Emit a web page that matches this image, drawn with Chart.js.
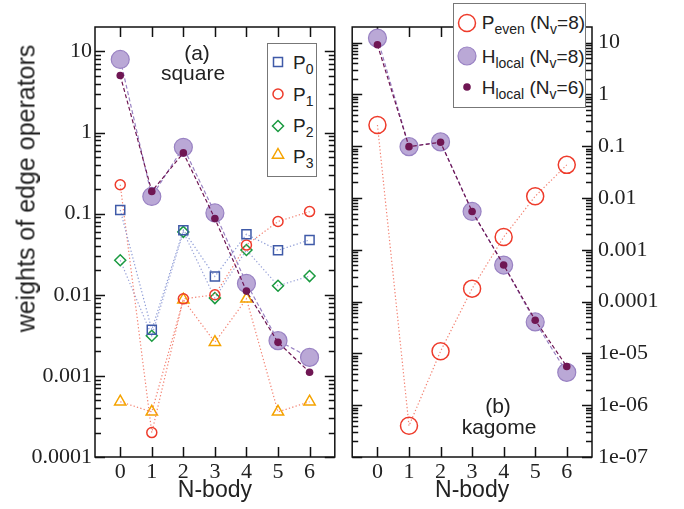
<!DOCTYPE html>
<html><head><meta charset="utf-8">
<script src="https://cdn.jsdelivr.net/npm/chart.js@4.4.1/dist/chart.umd.min.js"></script>
<style>
html,body{margin:0;padding:0;background:#fff;}
#wrap{position:relative;width:684px;height:509px;overflow:hidden;font-family:'Liberation Sans',Arial,sans-serif;color:#222;}
canvas{position:absolute;top:0;}
#c1{left:0;} #c2{left:342px;}
.txt{position:absolute;white-space:nowrap;}
.lg{font-size:19px;line-height:19px;}
.lg sub{font-size:14px;vertical-align:-5px;line-height:0;}
.box{position:absolute;background:#fff;border:1px solid #777;box-sizing:border-box;}
.mk{position:absolute;width:24px;height:24px;overflow:visible;}
</style></head>
<body>
<div id="wrap">
<canvas id="c1" width="345" height="509"></canvas>
<canvas id="c2" width="342" height="509"></canvas>

<div class="txt" style="left:-174px;top:175.5px;width:400px;height:25px;font-size:25px;line-height:25px;text-align:center;transform:rotate(-90deg);">weights of edge operators</div>

<div class="txt" style="left:137px;top:42px;width:120px;text-align:center;font-size:21px;line-height:21px;">(a)</div>
<div class="txt" style="left:133px;top:62px;width:120px;text-align:center;font-size:21px;line-height:21px;">square</div>
<div class="txt" style="left:438px;top:395px;width:120px;text-align:center;font-size:21px;line-height:21px;">(b)</div>
<div class="txt" style="left:439px;top:416px;width:120px;text-align:center;font-size:21px;line-height:21px;">kagome</div>

<!-- legend (a) -->
<div class="box" style="left:267px;top:43px;width:50px;height:134px;"></div>
<svg class="mk" style="left:266px;top:50px"><rect x="7.5" y="7.5" width="9" height="9" fill="none" stroke="#3f5aa8" stroke-width="1.5"/></svg>
<svg class="mk" style="left:266px;top:82px"><circle cx="12" cy="12" r="5" fill="none" stroke="#ee3b2b" stroke-width="1.5"/></svg>
<svg class="mk" style="left:266px;top:114px"><polygon points="12,6.5 17.5,12 12,17.5 6.5,12" fill="none" stroke="#1a9a40" stroke-width="1.5"/></svg>
<svg class="mk" style="left:266px;top:143px"><polygon points="12,5.5 17.6,15.2 6.4,15.2" fill="none" stroke="#f5a300" stroke-width="1.5"/></svg>
<div class="txt lg" style="left:293px;top:52.7px">P<sub>0</sub></div>
<div class="txt lg" style="left:293px;top:84.5px">P<sub>1</sub></div>
<div class="txt lg" style="left:293px;top:116.3px">P<sub>2</sub></div>
<div class="txt lg" style="left:293px;top:146.5px">P<sub>3</sub></div>

<!-- legend (b) -->
<div class="box" style="left:453px;top:3px;width:133px;height:105px;"></div>
<svg class="mk" style="left:455px;top:10.7px"><circle cx="12" cy="12" r="8.5" fill="none" stroke="#ee3b2b" stroke-width="1.5"/></svg>
<svg class="mk" style="left:455px;top:44px"><circle cx="12" cy="12" r="9" fill="#baa8d6" stroke="#9982c3" stroke-width="1.2"/></svg>
<svg class="mk" style="left:455px;top:75px"><circle cx="12" cy="12" r="3.8" fill="#6f1653"/></svg>
<div class="txt lg" style="left:481.7px;top:13.4px">P<sub>even</sub> (N<sub>v</sub>=8)</div>
<div class="txt lg" style="left:481.7px;top:46.7px">H<sub>local</sub> (N<sub>v</sub>=8)</div>
<div class="txt lg" style="left:481.7px;top:77.7px">H<sub>local</sub> (N<sub>v</sub>=6)</div>
</div>

<script>
// ---------- data ----------
const nBody = [0, 1, 2, 3, 4, 5, 6];
const xTickLabels = ['0', '1', '2', '3', '4', '5', '6'];

// (a) square lattice
const squareP0 = [0.111, 0.0037, 0.0625, 0.0168, 0.0557, 0.0353, 0.0474];
const squareP1 = [0.227, 0.0002, 0.0089, 0.0100, 0.041, 0.080, 0.106];
const squareP2 = [0.0266, 0.00313, 0.0596, 0.0091, 0.0356, 0.0129, 0.0170];
const squareP3 = [0.00048, 0.00036, 0.0087, 0.0026, 0.0089, 0.00036, 0.00048];
const squareHlocal8 = [7.96, 0.163, 0.658, 0.102, 0.0138, 0.00272, 0.00169];
const squareHlocal6 = [5.05, 0.188, 0.561, 0.087, 0.0111, 0.00259, 0.00111];

// (b) kagome lattice
const kagomePeven8 = [0.257, 4.0e-7, 1.1e-5, 1.78e-4, 1.76e-3, 0.0108, 0.0436];
const kagomeHlocal8 = [12.2, 0.098, 0.121, 0.0055, 5.07e-4, 4.05e-5, 4.3e-6];
const kagomeHlocal6 = [9.07, 0.098, 0.119, 0.0055, 5.1e-4, 4.36e-5, 5.6e-6];

const squareYTicks = [1e-4, 1e-3, 1e-2, 1e-1, 1, 10];
const squareYTickLabels = ['0.0001', '0.001', '0.01', '0.1', '1', '10'];
const kagomeYTicks = [1e-7, 1e-6, 1e-5, 1e-4, 1e-3, 1e-2, 1e-1, 1, 10];
const kagomeYTickLabels = ['1e-07', '1e-06', '1e-05', '0.0001', '0.001', '0.01', '0.1', '1', '10'];

// ---------- helpers ----------
function pts(vals) { return nBody.map((x, i) => ({ x: x, y: vals[i] })); }

function series(label, vals, st) {
  return Object.assign({
    label: label, data: pts(vals), showLine: true, fill: false,
    borderWidth: 1.2, pointBorderWidth: 1.5, pointHoverRadius: st.pointRadius
  }, st);
}

const dotted = [1.3, 2.2];
const dashed = [4, 2.5];

const frameTicks = {
  id: 'frameTicks',
  beforeDatasetsDraw(chart) {
    const { ctx, chartArea: a, scales: { x, y } } = chart;
    ctx.save();
    ctx.strokeStyle = '#111';
    ctx.lineWidth = 1.5;
    ctx.strokeRect(a.left, a.top, a.right - a.left, a.bottom - a.top);
    ctx.beginPath();
    const major = 10, minor = 6;
    x.ticks.forEach(t => {
      const px = Math.round(x.getPixelForValue(t.value)) + 0.5;
      ctx.moveTo(px, a.bottom); ctx.lineTo(px, a.bottom - major);
      ctx.moveTo(px, a.top); ctx.lineTo(px, a.top + major);
    });
    y.ticks.forEach(t => {
      const py = Math.round(y.getPixelForValue(t.value)) + 0.5;
      ctx.moveTo(a.left, py); ctx.lineTo(a.left + major, py);
      ctx.moveTo(a.right, py); ctx.lineTo(a.right - major, py);
      for (let k = 2; k <= 9; k++) {
        const v = t.value * k;
        if (v >= y.max) break;
        const pm = Math.round(y.getPixelForValue(v)) + 0.5;
        ctx.moveTo(a.left, pm); ctx.lineTo(a.left + minor, pm);
        ctx.moveTo(a.right, pm); ctx.lineTo(a.right - minor, pm);
      }
    });
    ctx.stroke();
    ctx.restore();
  }
};

function makeChart(id, datasets, yTicks, yLabels, side, pad, yWidth, yPad) {
  return new Chart(document.getElementById(id), {
    type: 'scatter',
    data: { datasets: datasets },
    options: {
      responsive: false, animation: false, devicePixelRatio: 1,
      layout: { padding: pad },
      plugins: { legend: { display: false }, tooltip: { enabled: false } },
      scales: {
        x: {
          type: 'linear', min: -0.8, max: 6.8,
          afterBuildTicks: s => { s.ticks = nBody.map(v => ({ value: v })); },
          afterFit: s => { s.height = 52; },
          grid: { display: false, drawTicks: false }, border: { display: false },
          ticks: {
            autoSkip: false, maxRotation: 0, padding: 2, color: '#222',
            font: { family: "'Liberation Serif', 'Times New Roman', serif", size: 22 },
            callback: v => xTickLabels[nBody.indexOf(v)]
          },
          title: {
            display: true, text: 'N-body', color: '#222',
            font: { family: "'Liberation Sans', Arial, sans-serif", size: 23, lineHeight: 1.2 },
            padding: { top: 0, bottom: 5 }
          }
        },
        y: {
          type: 'logarithmic', position: side, min: yTicks[0], max: 20,
          afterBuildTicks: s => { s.ticks = yTicks.map(v => ({ value: v })); },
          afterFit: s => { s.width = yWidth; },
          grid: { display: false, drawTicks: false }, border: { display: false },
          ticks: {
            autoSkip: false, padding: yPad, color: '#222',
            font: { family: "'Liberation Serif', 'Times New Roman', serif", size: 22 },
            callback: v => yLabels[yTicks.indexOf(v)]
          }
        }
      }
    },
    plugins: [frameTicks]
  });
}

const none = 'rgba(0,0,0,0)';

makeChart('c1', [
  series('H_local (N_v=6)', squareHlocal6, { order: 0, borderColor: '#6f1653', borderDash: dashed, pointStyle: 'circle', pointRadius: 3.8, pointBackgroundColor: '#6f1653', pointBorderColor: '#6f1653', pointBorderWidth: 0 }),
  series('H_local (N_v=8)', squareHlocal8, { order: 1, borderColor: '#9982c3', borderDash: dashed, pointStyle: 'circle', pointRadius: 9, pointBackgroundColor: '#baa8d6', pointBorderColor: '#9982c3', pointBorderWidth: 1.2 }),
  series('P0', squareP0, { order: 2, borderColor: '#8c9bd6', borderDash: dotted, pointStyle: 'rect', pointRadius: 6.4, pointBackgroundColor: none, pointBorderColor: '#3f5aa8' }),
  series('P1', squareP1, { order: 3, borderColor: '#f38272', borderDash: dotted, pointStyle: 'circle', pointRadius: 5, pointBackgroundColor: none, pointBorderColor: '#ee3b2b' }),
  series('P2', squareP2, { order: 4, borderColor: '#9aa3d8', borderDash: dotted, pointStyle: 'rectRot', pointRadius: 5.5, pointBackgroundColor: none, pointBorderColor: '#1a9a40' }),
  series('P3', squareP3, { order: 5, borderColor: '#f38272', borderDash: dotted, pointStyle: 'triangle', pointRadius: 6.5, pointBackgroundColor: none, pointBorderColor: '#f5a300' })
], squareYTicks, squareYTickLabels, 'left', { left: 0, top: 27, right: 6, bottom: 0 }, 95, 3);

makeChart('c2', [
  series('H_local (N_v=6)', kagomeHlocal6, { order: 0, borderColor: '#6f1653', borderDash: dashed, pointStyle: 'circle', pointRadius: 3.8, pointBackgroundColor: '#6f1653', pointBorderColor: '#6f1653', pointBorderWidth: 0 }),
  series('H_local (N_v=8)', kagomeHlocal8, { order: 1, borderColor: '#9982c3', borderDash: dashed, pointStyle: 'circle', pointRadius: 9, pointBackgroundColor: '#baa8d6', pointBorderColor: '#9982c3', pointBorderWidth: 1.2 }),
  series('P_even (N_v=8)', kagomePeven8, { order: 2, borderColor: '#f38272', borderDash: dotted, pointStyle: 'circle', pointRadius: 8.5, pointBackgroundColor: none, pointBorderColor: '#ee3b2b' })
], kagomeYTicks, kagomeYTickLabels, 'right', { left: 7, top: 27, right: 0, bottom: 0 }, 92, 6);
</script>
</body></html>
